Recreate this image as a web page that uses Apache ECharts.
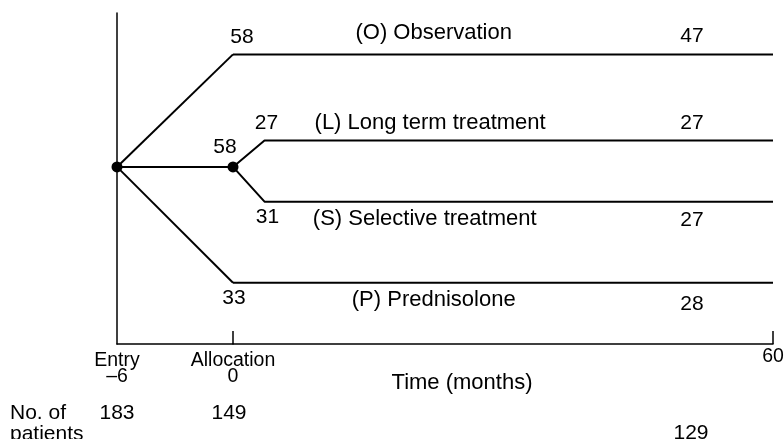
<!DOCTYPE html>
<html>
<head>
<meta charset="utf-8">
<script src="https://cdn.jsdelivr.net/npm/echarts@6/dist/echarts.min.js"></script>
<style>
  html, body { margin: 0; padding: 0; background: #fff; }
  #chart { width: 784px; height: 439px; }
</style>
</head>
<body>
<div id="chart"></div>
<script>
// trial arms, top to bottom
const arms = ["(O) Observation", "(L) Long term treatment", "(S) Selective treatment", "(P) Prednisolone"];
const armAllocated = [58, 27, 31, 33];
const armAt60 = [47, 27, 27, 28];
const armLevel = [87.5, 61.5, 43, 18.5];  // vertical slot of each arm
const entryLevel = 53.5;
const deferredGroup = 58;                 // L + S, split again after allocation
const splitMonth = 3.5;
const patientMonths = [-6, 0, 60];
const patients = [183, 149, 129];

const INK = "#000";
const FONT = "'Liberation Sans', Arial, Helvetica, sans-serif";

const chart = echarts.init(document.getElementById("chart"), null, { renderer: "canvas" });

function flowLine(xIdx, data) {
  return {
    type: "line",
    xAxisIndex: xIdx,
    yAxisIndex: xIdx,
    data: data,
    symbol: "none",
    silent: true,
    clip: false,
    lineStyle: { color: INK, width: 2 }
  };
}

function dot(xIdx, data) {
  return {
    type: "scatter",
    xAxisIndex: xIdx,
    yAxisIndex: xIdx,
    data: data,
    symbolSize: 11,
    silent: true,
    itemStyle: { color: INK, opacity: 1 }
  };
}

// text pinned to a data point, nudged by a pixel offset
function textAt(x, y, text, offset, size) {
  return {
    value: [x, y],
    label: { formatter: String(text), offset: offset, fontSize: size || 21 }
  };
}

function textSeries(xIdx, items) {
  return {
    type: "scatter",
    xAxisIndex: xIdx,
    yAxisIndex: xIdx,
    symbolSize: 0,
    silent: true,
    clip: false,
    itemStyle: { color: INK, opacity: 1 },
    data: items,
    label: {
      show: true,
      position: "inside",
      color: INK,
      opacity: 1,
      fontSize: 21,
      fontFamily: FONT,
      textBorderWidth: 0
    }
  };
}

// where the arm names sit along the time axis
const nameMonth = [22.3, 21.9, 21.3, 22.3];

const armTexts = [
  textAt(0, armLevel[0], armAllocated[0], [9, -17]),
  textAt(nameMonth[0], armLevel[0], arms[0], [0, -21], 22),
  textAt(60, armLevel[0], armAt60[0], [-81, -18]),

  textAt(splitMonth, armLevel[1], armAllocated[1], [2, -17]),
  textAt(nameMonth[1], armLevel[1], arms[1], [0, -17], 22),
  textAt(60, armLevel[1], armAt60[1], [-81, -17]),

  textAt(0, entryLevel, deferredGroup, [-8, -20]),

  textAt(splitMonth, armLevel[2], armAllocated[2], [3, 16]),
  textAt(nameMonth[2], armLevel[2], arms[2], [0, 17], 22),
  textAt(60, armLevel[2], armAt60[2], [-81, 19]),

  textAt(0, armLevel[3], armAllocated[3], [1, 15]),
  textAt(nameMonth[3], armLevel[3], arms[3], [0, 17], 22),
  textAt(60, armLevel[3], armAt60[3], [-81, 21]),

  textAt(patientMonths[1], 0, patients[1], [-4, 69]),
  textAt(patientMonths[2], 0, patients[2], [-82, 89])
];

const axisLine = { show: true, onZero: false, lineStyle: { color: INK, width: 1.5 } };

const option = {
  animation: false,
  backgroundColor: "#fff",
  grid: [
    { left: 117, top: 13, width: 116, height: 331, outerBoundsMode: "none", containLabel: false },
    { left: 233, top: 13, width: 540, height: 331, outerBoundsMode: "none", containLabel: false }
  ],
  xAxis: [
    {
      gridIndex: 0, type: "value", min: -6, max: 0, interval: 6,
      axisLine: axisLine,
      axisTick: { show: false },
      splitLine: { show: false },
      axisLabel: {
        margin: 9,
        color: INK,
        fontFamily: FONT,
        fontSize: 19.5,
        lineHeight: 16,
        formatter: v => (v === -6 ? "Entry\n\u20136" : "")
      }
    },
    {
      gridIndex: 1, type: "value", min: 0, max: 60, interval: 60,
      axisLine: axisLine,
      axisTick: { show: true, inside: true, length: 13, lineStyle: { color: INK, width: 1.5 } },
      splitLine: { show: false },
      axisLabel: {
        margin: 9,
        color: INK,
        fontFamily: FONT,
        fontSize: 19.5,
        lineHeight: 16,
        formatter: v => (v === 0 ? "Allocation\n0" : "{e|60}"),
        rich: { e: { fontSize: 19.5, lineHeight: 8, fontFamily: FONT, color: INK } }
      }
    }
  ],
  yAxis: [
    {
      gridIndex: 0, type: "value", min: 0, max: 100,
      axisLine: axisLine,
      axisTick: { show: false },
      axisLabel: { show: false },
      splitLine: { show: false }
    },
    {
      gridIndex: 1, type: "value", min: 0, max: 100,
      axisLine: { show: false },
      axisTick: { show: false },
      axisLabel: { show: false },
      splitLine: { show: false }
    }
  ],
  graphic: [
    {
      type: "text",
      left: 10,
      top: 403,
      style: {
        text: "No. of\npatients",
        fill: INK,
        font: "21px " + FONT,
        lineHeight: 21
      }
    },
    {
      type: "text",
      x: 462,
      y: 383,
      style: {
        text: "Time (months)",
        fill: INK,
        font: "22px " + FONT,
        align: "center",
        verticalAlign: "middle"
      }
    }
  ],
  series: [
    // entry to allocation
    flowLine(0, [[-6, entryLevel], [0, armLevel[0]]]),
    flowLine(0, [[-6, entryLevel], [0, entryLevel]]),
    flowLine(0, [[-6, entryLevel], [0, armLevel[3]]]),
    dot(0, [[-6, entryLevel]]),
    textSeries(0, [textAt(patientMonths[0], 0, patients[0], [0, 69])]),

    // allocation to 60 months
    flowLine(1, [[0, armLevel[0]], [60, armLevel[0]]]),
    flowLine(1, [[0, entryLevel], [splitMonth, armLevel[1]], [60, armLevel[1]]]),
    flowLine(1, [[0, entryLevel], [splitMonth, armLevel[2]], [60, armLevel[2]]]),
    flowLine(1, [[0, armLevel[3]], [60, armLevel[3]]]),
    dot(1, [[0, entryLevel]]),
    textSeries(1, armTexts)
  ]
};

chart.setOption(option);
</script>
</body>
</html>
